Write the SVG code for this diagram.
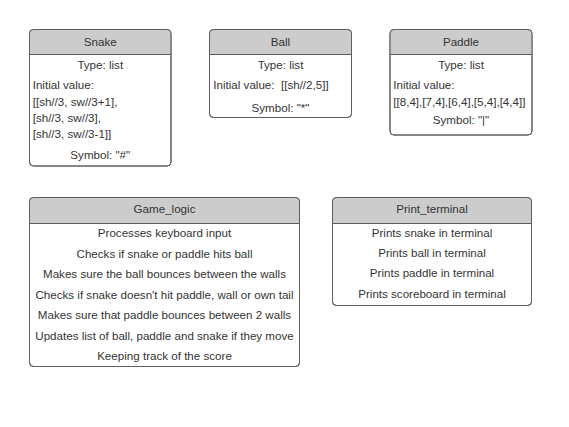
<svg xmlns="http://www.w3.org/2000/svg" width="569" height="427" viewBox="0 0 569 427">
<style>
.box{fill:#ffffff;stroke:#5e5e5e;stroke-width:1}
.hdr{fill:#cccccc;stroke:none}
.sep{stroke:#5e5e5e;stroke-width:1}
text{font-family:"Liberation Sans",Arial,sans-serif;font-size:11.6px;fill:#333333}
.c{text-anchor:middle}
</style>
<rect width="569" height="427" fill="#ffffff"/>
<g id="snake">
<rect class="box" x="29.5" y="29.5" width="141.5" height="136.5" rx="4"/>
<path class="hdr" d="M33.5 30h133a3.5 3.5 0 0 1 3.5 3.5V54.5H30V33.5a3.5 3.5 0 0 1 3.5-3.5z"/>
<rect x="29.5" y="29.5" width="141.5" height="136.5" rx="4" fill="none" stroke="#5e5e5e"/>
<line class="sep" x1="29.5" y1="54.5" x2="171" y2="54.5"/>
<text class="c" x="100.25" y="46">Snake</text>
<text class="c" x="100.25" y="68.5">Type: list</text>
<text x="32.7" y="89">Initial value:</text>
<text x="32.7" y="105.5">[[sh//3, sw//3+1],</text>
<text x="32.7" y="122">[sh//3, sw//3],</text>
<text x="32.7" y="138">[sh//3, sw//3-1]]</text>
<text class="c" x="100.25" y="159">Symbol: "#"</text>
</g>
<g id="ball">
<rect class="box" x="209.5" y="29.5" width="142" height="88" rx="4"/>
<path class="hdr" d="M213.5 30h134a3.5 3.5 0 0 1 3.5 3.5V54.5H210V33.5a3.5 3.5 0 0 1 3.5-3.5z"/>
<rect x="209.5" y="29.5" width="142" height="88" rx="4" fill="none" stroke="#5e5e5e"/>
<line class="sep" x1="209.5" y1="54.5" x2="351.5" y2="54.5"/>
<text class="c" x="280.5" y="46">Ball</text>
<text class="c" x="280.5" y="68.5">Type: list</text>
<text x="213.3" y="89" xml:space="preserve">Initial value:  [[sh//2,5]]</text>
<text class="c" x="280.5" y="112">Symbol: "*"</text>
</g>
<g id="paddle">
<rect class="box" x="390" y="29.5" width="142" height="105.5" rx="4"/>
<path class="hdr" d="M394 30h134a3.5 3.5 0 0 1 3.5 3.5V54.5H390.5V33.5a3.5 3.5 0 0 1 3.5-3.5z"/>
<rect x="390" y="29.5" width="142" height="105.5" rx="4" fill="none" stroke="#5e5e5e"/>
<line class="sep" x1="390" y1="54.5" x2="532" y2="54.5"/>
<text class="c" x="461" y="46">Paddle</text>
<text class="c" x="461" y="68.5">Type: list</text>
<text x="393.3" y="89">Initial value:</text>
<text x="393.3" y="105.5">[[8,4],[7,4],[6,4],[5,4],[4,4]]</text>
<text class="c" x="461" y="123.5">Symbol: "|"</text>
</g>
<g id="game_logic">
<rect class="box" x="29.5" y="197.5" width="270" height="169" rx="4"/>
<path class="hdr" d="M33.5 198h262a3.5 3.5 0 0 1 3.5 3.5V223.5H30V201.5a3.5 3.5 0 0 1 3.5-3.5z"/>
<rect x="29.5" y="197.5" width="270" height="169" rx="4" fill="none" stroke="#5e5e5e"/>
<line class="sep" x1="29.5" y1="223.5" x2="299.5" y2="223.5"/>
<text class="c" x="164.5" y="212.5">Game_logic</text>
<text class="c" x="164.5" y="237">Processes keyboard input</text>
<text class="c" x="164.5" y="257.5">Checks if snake or paddle hits ball</text>
<text class="c" x="164.5" y="278">Makes sure the ball bounces between the walls</text>
<text class="c" x="164.5" y="298.5">Checks if snake doesn't hit paddle, wall or own tail</text>
<text class="c" x="164.5" y="319">Makes sure that paddle bounces between 2 walls</text>
<text class="c" x="164.5" y="339.5">Updates list of ball, paddle and snake if they move</text>
<text class="c" x="164.5" y="360">Keeping track of the score</text>
</g>
<g id="print_terminal">
<rect class="box" x="332.5" y="197.5" width="199" height="108" rx="4"/>
<path class="hdr" d="M336.5 198h191a3.5 3.5 0 0 1 3.5 3.5V223.5H333V201.5a3.5 3.5 0 0 1 3.5-3.5z"/>
<rect x="332.5" y="197.5" width="199" height="108" rx="4" fill="none" stroke="#5e5e5e"/>
<line class="sep" x1="332.5" y1="223.5" x2="531.5" y2="223.5"/>
<text class="c" x="432" y="212.5">Print_terminal</text>
<text class="c" x="432" y="237">Prints snake in terminal</text>
<text class="c" x="432" y="256.5">Prints ball in terminal</text>
<text class="c" x="432" y="277">Prints paddle in terminal</text>
<text class="c" x="432" y="298">Prints scoreboard in terminal</text>
</g>
<g id="connectors"></g>
</svg>
